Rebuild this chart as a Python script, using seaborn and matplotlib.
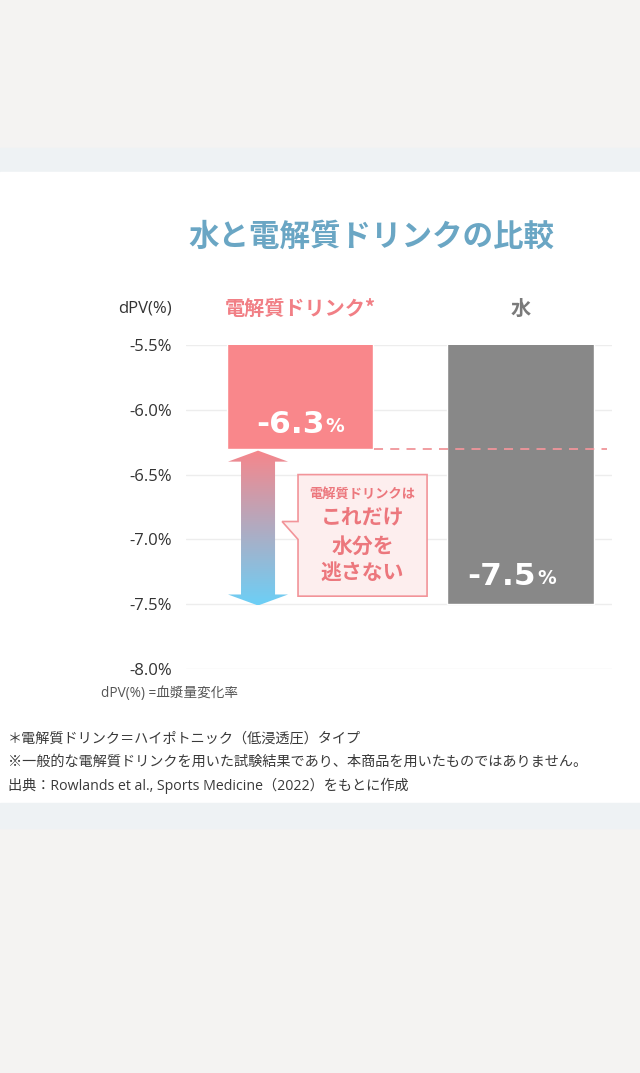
import matplotlib
matplotlib.use('Agg')
import matplotlib.pyplot as plt
import seaborn as sns
import numpy as np
import pandas as pd
from matplotlib.patches import Rectangle, Polygon
from matplotlib.colors import LinearSegmentedColormap

# ---------------- data ----------------
categories = ['電解質ドリンク*', '水']
values = [-6.3, -7.5]
value_texts = ['-6.3', '-7.5']
bar_colors = ['#f9878b', '#888888']
cat_label_colors = ['#f17f85', '#7a7a7a']
yticks = [-5.5, -6.0, -6.5, -7.0, -7.5, -8.0]
ytick_labels = ['-5.5%', '-6.0%', '-6.5%', '-7.0%', '-7.5%', '-8.0%']
title = '水と電解質ドリンクの比較'
axis_unit = 'dPV(%)'
axis_note = 'dPV(%) =血漿量変化率'
callout_lines = ['電解質ドリンクは', 'これだけ', '水分を', '逃さない']
footnotes = [
    '＊電解質ドリンク＝ハイポトニック（低浸透圧）タイプ',
    '※一般的な電解質ドリンクを用いた試験結果であり、本商品を用いたものではありません。',
    '出典：Rowlands et al., Sports Medicine（2022）をもとに作成',
]

sns.set_theme(style='white')
plt.rcParams['font.family'] = ['Open Sans', 'Noto Sans CJK JP', 'DejaVu Sans']
CJK = ['Noto Sans CJK JP', 'DejaVu Sans']

W, H = 640, 1073
fig = plt.figure(figsize=(W / 100, H / 100), dpi=100)
fig.patch.set_facecolor('#f4f3f2')

def fy(px):
    return 1 - px / H

def fx(px):
    return px / W

# background bands
for top, bot, col in [(148, 172, '#eef2f4'), (172, 803, '#ffffff'), (803, 828, '#eef2f4')]:
    fig.patches.append(Rectangle((0, fy(bot)), 1, (bot - top) / H,
                                 transform=fig.transFigure, color=col, zorder=-5))

# title
fig.text(fx(371), fy(237), title, ha='center', va='center', fontsize=22,
         fontweight='bold', color='#6aa6c4', family=CJK)

# axes
ax = fig.add_axes([fx(186), fy(669), fx(612) - fx(186), (669 - 345) / H])
ax.set_facecolor('none')
df = pd.DataFrame({'cat': categories, 'val': values})
sns.barplot(data=df, x='cat', y='val', hue='cat', palette=bar_colors,
            width=0.665, saturation=1, legend=False, ax=ax, zorder=2)

for s in ax.spines.values():
    s.set_visible(False)
ax.set_axisbelow(True)
ax.yaxis.grid(True, color='#ededed', lw=1)
ax.xaxis.grid(False)
ax.set_yticks(yticks)
ax.set_yticklabels(ytick_labels)
ax.tick_params(axis='y', length=0, pad=10, labelsize=12, labelcolor='#333333')
ax.set_xticks([])
ax.set_xlabel('')
ax.set_ylabel('')

# category labels above the plot
for i, (c, col) in enumerate(zip(categories, cat_label_colors)):
    ax.annotate(c, xy=(i, 1), xycoords=('data', 'axes fraction'),
                xytext=(0, 26), textcoords='offset points', ha='center',
                va='center', fontsize=14.5, fontweight='bold', color=col,
                family=CJK)
ax.annotate(axis_unit, xy=(0, 1), xycoords='axes fraction', xytext=(-10, 26),
            textcoords='offset points', ha='right', va='center',
            fontsize=12, color='#333333')

# value labels inside bars
label_y = [values[0] + 0.19, values[1] + 0.215]
split_off = [18, 11]
for i, (t, yv) in enumerate(zip(value_texts, label_y)):
    ax.annotate(t, xy=(i, yv), xytext=(split_off[i], 0), textcoords='offset points',
                ha='right', va='center', fontsize=22.5, fontweight='bold',
                color='white', family='DejaVu Sans', zorder=5)
    ax.annotate('%', xy=(i, yv), xytext=(split_off[i] + 0.5, -1.5),
                textcoords='offset points', ha='left', va='center', fontsize=13.5,
                fontweight='bold', color='white', family='DejaVu Sans', zorder=5)

# dashed reference line
ax.plot([0.335, 1.389], [values[0], values[0]], ls=(0, (5, 4)), color='#f0959a',
        lw=1.3, zorder=4)

# gradient double arrow
xc = -0.19
sw, hw, hl = 0.077, 0.136, 0.085
ytop, ybot = values[0] - 0.015, values[1] - 0.01
arrow_pts = [(xc, ytop), (xc + hw, ytop - hl), (xc + sw, ytop - hl),
             (xc + sw, ybot + hl), (xc + hw, ybot + hl), (xc, ybot),
             (xc - hw, ybot + hl), (xc - sw, ybot + hl), (xc - sw, ytop - hl),
             (xc - hw, ytop - hl)]
arrow_poly = Polygon(arrow_pts, closed=True, facecolor='none', edgecolor='none')
ax.add_patch(arrow_poly)
cmap = LinearSegmentedColormap.from_list('g', ['#f6868b', '#6ccff6'])
grad = np.linspace(0, 1, 256).reshape(-1, 1)
im = ax.imshow(grad, cmap=cmap, aspect='auto', origin='upper',
               extent=[xc - hw, xc + hw, ybot, ytop], zorder=3)
im.set_clip_path(arrow_poly)

# callout box
bx0, bx1, by0, by1 = -0.009, 0.575, -6.5, -7.438
callout = Polygon([(bx0, by0), (bx1, by0), (bx1, by1), (bx0, by1), (bx0, -7.0),
                   (-0.081, -6.862), (bx0, -6.862)], closed=True,
                  facecolor='#fdeeee', edgecolor='#f29499', lw=1.2, zorder=3)
ax.add_patch(callout)
cx = (bx0 + bx1) / 2
for txt, yv, fs in zip(callout_lines, [-6.646, -6.831, -7.054, -7.254],
                       [9.5, 15, 15, 15]):
    ax.text(cx, yv, txt, ha='center', va='center', fontsize=fs, fontweight='bold',
            color='#ec777d', zorder=4, family=CJK)

ax.set_ylim(-8.0, -5.5)
ax.set_xlim(-0.516, 1.412)

# notes
fig.text(fx(101), fy(693), axis_note, ha='left', va='center', fontsize=9.8,
         color='#555555')
for txt, ypx in zip(footnotes, [739, 762, 786]):
    fig.text(fx(8), fy(ypx), txt, ha='left', va='center', fontsize=10.2,
             color='#3a3a3a')

fig.savefig('out.png', dpi=100, facecolor=fig.get_facecolor())
